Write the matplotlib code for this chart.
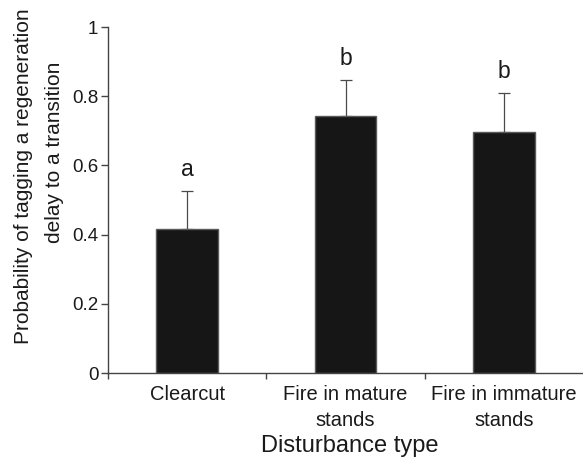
import matplotlib.pyplot as plt
import numpy as np

plt.rcParams['font.family'] = ['Liberation Sans', 'DejaVu Sans']

categories = ['Clearcut', 'Fire in mature\nstands', 'Fire in immature\nstands']
probability = [0.417, 0.744, 0.696]
upper_err = [0.109, 0.103, 0.113]
letters = ['a', 'b', 'b']

fig = plt.figure(figsize=(5.83, 4.57), dpi=100)
ax = fig.add_axes([108 / 583, 1 - 373 / 457, 1 - 108 / 583, (373 - 27) / 457])

x = np.arange(len(categories))
ax.bar(x, probability, width=0.39, color='#161616', edgecolor='#5a5a5a', linewidth=1.0, zorder=2)
ax.errorbar(x, probability, yerr=[np.zeros(len(x)), upper_err], fmt='none',
            ecolor='#4a4a4a', elinewidth=0.9, capsize=4.2, capthick=0.9, zorder=1)

for xi, p, e, lab in zip(x, probability, upper_err, letters):
    ax.annotate(lab, (xi, p + e), xytext=(0, 11), textcoords='offset points',
                ha='center', va='baseline', fontsize=16.5, color='#1a1a1a')

ax.set_xlim(-0.5, 2.5)
ax.set_ylim(0, 1)
ax.set_yticks([0, 0.2, 0.4, 0.6, 0.8, 1])
ax.set_yticklabels(['0', '0.2', '0.4', '0.6', '0.8', '1'], fontsize=13.5, color='#1a1a1a')
ax.set_xticks(x)
ax.set_xticklabels(categories, fontsize=14.5, color='#1a1a1a', linespacing=1.4)
ax.tick_params(axis='x', which='major', length=0, pad=9)
ax.set_xticks([-0.5, 0.5, 1.5], minor=True)
ax.tick_params(axis='x', which='minor', length=4.5, width=1, color='#444444')
ax.tick_params(axis='y', length=5, width=1, color='#444444', pad=2)

for s in ['top', 'right']:
    ax.spines[s].set_visible(False)
for s in ['left', 'bottom']:
    ax.spines[s].set_color('#444444')
    ax.spines[s].set_linewidth(1)

fig.text(350 / 583, 1 - 446 / 457, 'Disturbance type', ha='center', va='center',
         fontsize=17, color='#1a1a1a')
fig.text(24 / 583, 1 - 176.5 / 457, 'Probability of tagging a regeneration', rotation=90,
         ha='center', va='center', fontsize=15, color='#1a1a1a')
fig.text(55 / 583, 1 - 152.5 / 457, 'delay to a transition', rotation=90,
         ha='center', va='center', fontsize=15, color='#1a1a1a')

fig.savefig('out.png', dpi=100)
